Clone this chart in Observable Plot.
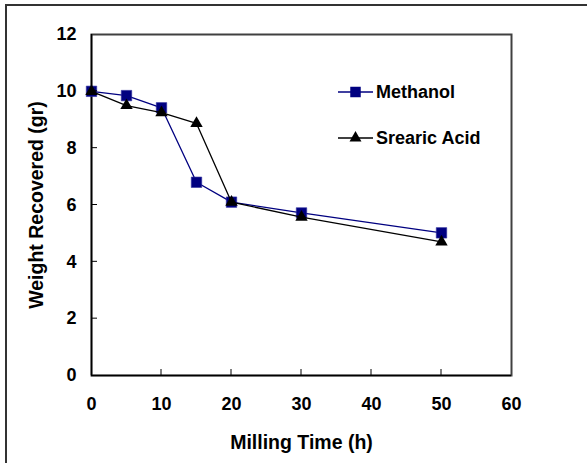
<!DOCTYPE html>
<html>
<head>
<meta charset="utf-8">
<script src="https://cdn.jsdelivr.net/npm/d3@7"></script>
<script src="https://cdn.jsdelivr.net/npm/@observablehq/plot@0.6"></script>
<style>
  html, body { margin: 0; padding: 0; background: #fff; }
  #wrap { position: relative; width: 587px; height: 463px; overflow: hidden; font-family: "Liberation Sans", Arial, sans-serif; }
  #border { position: absolute; left: 5px; top: 4px; width: 700px; height: 700px; border-left: 2px solid #333; border-top: 2px solid #333; z-index: 5; }
  #chart { position: absolute; left: 0; top: 0; }
  #legend { position: absolute; left: 0; top: 0; }
</style>
</head>
<body>
<div id="wrap"><div id="chart"></div><svg id="legend" width="587" height="463"></svg><div id="border"></div></div>
<script>
const hours = [0, 5, 10, 15, 20, 30, 50];
const methanol = [10.0, 9.85, 9.42, 6.8, 6.1, 5.72, 5.02];
const stearic = [10.0, 9.5, 9.25, 8.87, 6.1, 5.57, 4.7];
const seriesNames = ["Methanol", "Srearic Acid"];
const seriesColors = ["#000080", "#000000"];
const xTicks = [0, 10, 20, 30, 40, 50, 60];
const yTicks = [0, 2, 4, 6, 8, 10, 12];

const mData = hours.map((h, i) => ({h, v: methanol[i]}));
const sData = hours.map((h, i) => ({h, v: stearic[i]}));

const font = "Liberation Sans, Arial, sans-serif";

const chart = Plot.plot({
  width: 587,
  height: 463,
  marginLeft: 91,
  marginRight: 76,
  marginTop: 34,
  marginBottom: 88,
  style: {fontFamily: font, fontWeight: "bold", fontSize: "18px", color: "#000", background: "transparent", overflow: "visible"},
  x: {type: "linear", domain: [0, 60]},
  y: {type: "linear", domain: [0, 12]},
  marks: [
    Plot.frame({stroke: "#404040", strokeWidth: 2}),
    Plot.axisX({ticks: xTicks, tickSize: 0, tickPadding: 22, label: null, fontSize: 18, fontWeight: "bold"}),
    Plot.axisY({ticks: yTicks, tickSize: 0, tickPadding: 15, label: null, fontSize: 18, fontWeight: "bold"}),
    Plot.axisX({ticks: [], label: "Milling Time (h)", labelAnchor: "center", labelArrow: "none", labelOffset: 73, fontSize: 19.5, fontWeight: "bold"}),
    Plot.axisY({ticks: [], label: "Weight Recovered (gr)", labelAnchor: "center", labelArrow: "none", labelOffset: 62, fontSize: 19.5, fontWeight: "bold"}),
    Plot.ruleX([0], {stroke: "#000", strokeWidth: 1.5}),
    Plot.ruleY([0], {stroke: "#000", strokeWidth: 1.5}),
    Plot.line(mData, {x: "h", y: "v", stroke: seriesColors[0], strokeWidth: 1.3}),
    Plot.dot(mData, {x: "h", y: "v", symbol: "square", r: 5.9, fill: seriesColors[0], stroke: "#3030a0", strokeWidth: 0.6}),
    Plot.line(sData, {x: "h", y: "v", stroke: seriesColors[1], strokeWidth: 1.3}),
    Plot.dot(sData, {x: "h", y: "v", symbol: "triangle", r: 4.6, fill: seriesColors[1], stroke: "none"})
  ]
});
document.getElementById("chart").appendChild(chart);

// inward tick marks, positioned with the chart's own scales
const svgSel = d3.select(chart);
const xs = chart.scale("x"), ys = chart.scale("y");
const tg = svgSel.append("g").attr("stroke", "#000").attr("stroke-width", 1);
tg.selectAll("line.yt").data(yTicks.slice(1, -1)).join("line").attr("class", "yt")
  .attr("x1", xs.apply(0)).attr("x2", xs.apply(0) + 6)
  .attr("y1", d => ys.apply(d)).attr("y2", d => ys.apply(d));
tg.selectAll("line.xt").data(xTicks.slice(1, -1)).join("line").attr("class", "xt")
  .attr("x1", d => xs.apply(d)).attr("x2", d => xs.apply(d))
  .attr("y1", ys.apply(0)).attr("y2", ys.apply(0) - 6);

// legend
const leg = d3.select("#legend");
const rows = [
  {name: seriesNames[0], color: seriesColors[0], sym: d3.symbolSquare, size: 110, y: 92},
  {name: seriesNames[1], color: seriesColors[1], sym: d3.symbolTriangle, size: 62, y: 138}
];
rows.forEach(r => {
  const g = leg.append("g");
  g.append("line").attr("x1", 338).attr("x2", 373).attr("y1", r.y).attr("y2", r.y)
    .attr("stroke", r.color).attr("stroke-width", 1.3);
  g.append("path").attr("d", d3.symbol(r.sym, r.size)()).attr("transform", `translate(355.5,${r.y})`)
    .attr("fill", r.color);
  g.append("text").attr("x", 376).attr("y", r.y).attr("dy", "0.36em")
    .attr("font-family", font).attr("font-weight", "bold").attr("font-size", 18)
    .attr("fill", "#000").text(r.name);
});
</script>
</body>
</html>
